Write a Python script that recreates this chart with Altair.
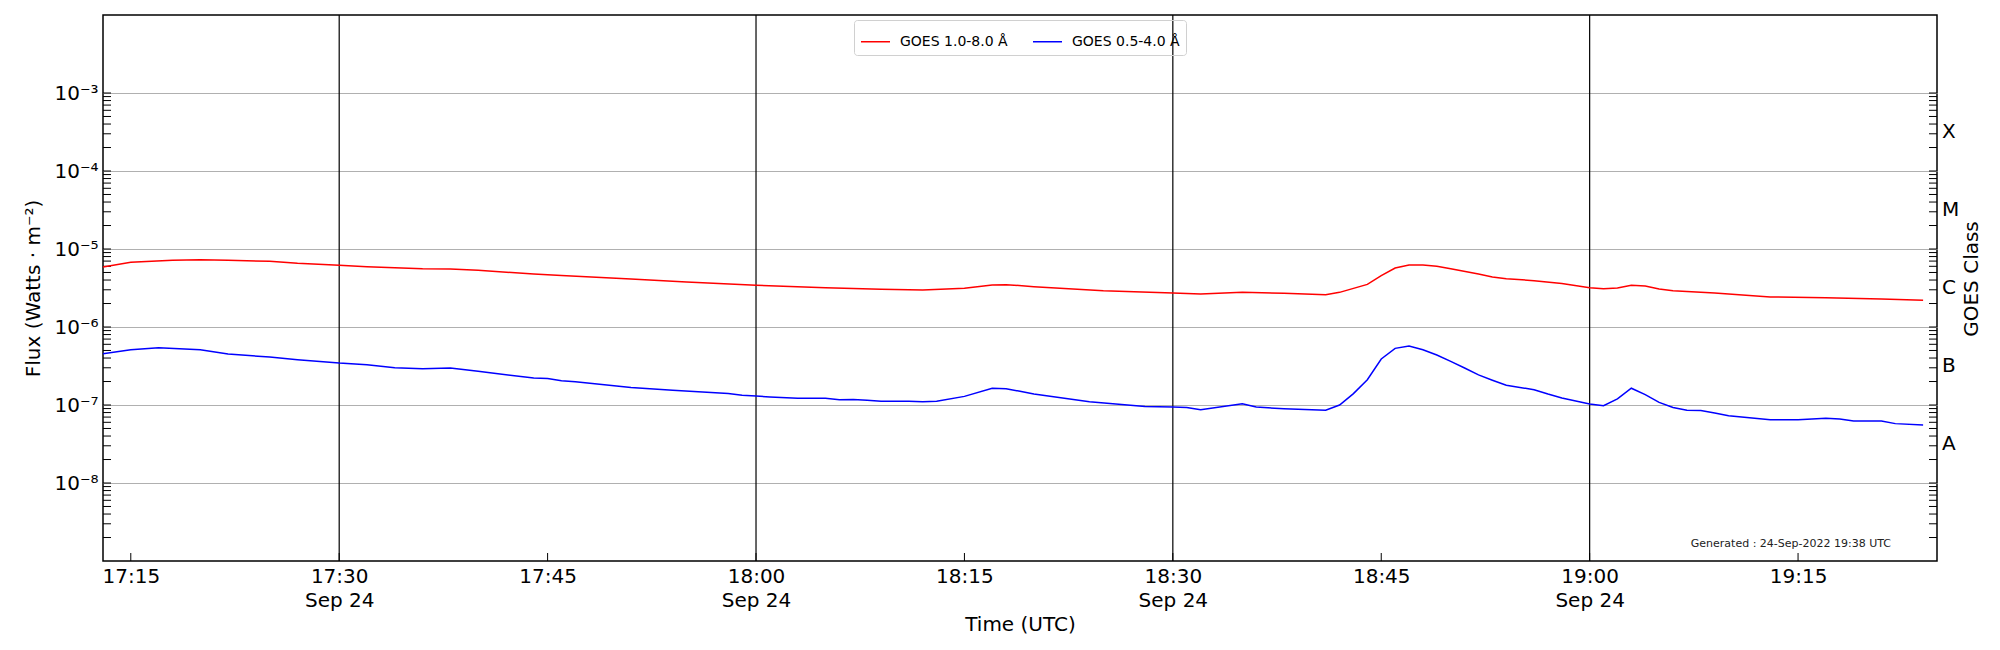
import altair as alt
import pandas as pd

DAY = "2022-09-24"

RED_TIMES = ["17:13", "17:15", "17:18", "17:20", "17:22", "17:25", "17:27", "17:30", "17:32", "17:36",
             "17:38", "17:40", "17:44", "17:46", "17:51", "17:55", "18:00", "18:05", "18:09", "18:12",
             "18:15", "18:17", "18:18", "18:20", "18:25", "18:30", "18:32", "18:35", "18:38", "18:41",
             "18:42", "18:44", "18:45", "18:46", "18:47", "18:48", "18:49", "18:50", "18:52", "18:53",
             "18:54", "18:56", "18:58", "19:00", "19:01", "19:02", "19:03", "19:04", "19:05", "19:06",
             "19:09", "19:13", "19:17", "19:21", "19:24"]
RED_FLUX = [5.88e-6, 6.74e-6, 7.16e-6, 7.30e-6, 7.16e-6, 6.95e-6, 6.55e-6, 6.18e-6, 5.94e-6, 5.60e-6,
            5.55e-6, 5.33e-6, 4.78e-6, 4.59e-6, 4.12e-6, 3.77e-6, 3.42e-6, 3.19e-6, 3.04e-6, 2.98e-6,
            3.13e-6, 3.45e-6, 3.49e-6, 3.29e-6, 2.92e-6, 2.73e-6, 2.65e-6, 2.78e-6, 2.70e-6, 2.60e-6,
            2.78e-6, 3.52e-6, 4.55e-6, 5.70e-6, 6.24e-6, 6.24e-6, 6.00e-6, 5.60e-6, 4.78e-6, 4.38e-6,
            4.17e-6, 3.93e-6, 3.60e-6, 3.19e-6, 3.10e-6, 3.16e-6, 3.42e-6, 3.36e-6, 3.07e-6, 2.92e-6,
            2.73e-6, 2.43e-6, 2.38e-6, 2.29e-6, 2.20e-6]

BLUE_TIMES = ["17:13", "17:15", "17:17", "17:20", "17:22", "17:25", "17:27", "17:30", "17:32", "17:34",
              "17:36", "17:38", "17:40", "17:41", "17:44", "17:45", "17:46", "17:47", "17:51", "17:54",
              "17:58", "17:59", "18:00", "18:01", "18:03", "18:05", "18:06", "18:07", "18:08", "18:09",
              "18:11", "18:12", "18:13", "18:15", "18:17", "18:18", "18:19", "18:20", "18:24", "18:28",
              "18:30", "18:31", "18:32", "18:35", "18:36", "18:38", "18:41", "18:42", "18:43", "18:44",
              "18:45", "18:46", "18:47", "18:48", "18:49", "18:50", "18:51", "18:52", "18:53", "18:54",
              "18:56", "18:57", "18:58", "19:00", "19:01", "19:02", "19:03", "19:04", "19:05", "19:06",
              "19:07", "19:08", "19:09", "19:10", "19:13", "19:15", "19:17", "19:18", "19:19", "19:21",
              "19:22", "19:24"]
BLUE_FLUX = [4.55e-7, 5.12e-7, 5.43e-7, 5.12e-7, 4.51e-7, 4.12e-7, 3.81e-7, 3.45e-7, 3.29e-7, 3.01e-7,
             2.92e-7, 2.98e-7, 2.70e-7, 2.57e-7, 2.22e-7, 2.18e-7, 2.05e-7, 1.99e-7, 1.68e-7, 1.54e-7,
             1.40e-7, 1.33e-7, 1.30e-7, 1.27e-7, 1.22e-7, 1.22e-7, 1.17e-7, 1.18e-7, 1.15e-7, 1.12e-7,
             1.12e-7, 1.10e-7, 1.12e-7, 1.29e-7, 1.64e-7, 1.62e-7, 1.50e-7, 1.38e-7, 1.10e-7, 9.6e-8,
             9.4e-8, 9.3e-8, 8.7e-8, 1.04e-7, 9.4e-8, 8.97e-8, 8.55e-8, 1.0e-7, 1.40e-7, 2.11e-7,
             3.89e-7, 5.32e-7, 5.70e-7, 5.12e-7, 4.37e-7, 3.63e-7, 2.98e-7, 2.43e-7, 2.08e-7, 1.79e-7,
             1.57e-7, 1.38e-7, 1.23e-7, 1.03e-7, 9.8e-8, 1.20e-7, 1.64e-7, 1.36e-7, 1.08e-7, 9.3e-8,
             8.55e-8, 8.5e-8, 7.9e-8, 7.3e-8, 6.48e-8, 6.45e-8, 6.75e-8, 6.6e-8, 6.24e-8, 6.24e-8,
             5.77e-8, 5.55e-8]

SERIES = ["GOES 1.0-8.0 Å", "GOES 0.5-4.0 Å"]
COLORS = ["#ff0000", "#0000ff"]

X_START, X_END = (17, 13), (19, 25)
X_TICKS = [(17, 15), (17, 30), (17, 45), (18, 0), (18, 15), (18, 30), (18, 45), (19, 0), (19, 15)]
VLINES = ["17:30", "18:00", "18:30", "19:00"]

DECADES = [1e-9, 1e-8, 1e-7, 1e-6, 1e-5, 1e-4, 1e-3]
LABELED_DECADES = [1e-8, 1e-7, 1e-6, 1e-5, 1e-4, 1e-3]
MINOR_MULTS = [2, 3, 4, 5, 6, 7, 8, 9]
CLASS_LABELS = ["A", "B", "C", "M", "X"]
CLASS_POS = [10 ** -7.5, 10 ** -6.5, 10 ** -5.5, 10 ** -4.5, 10 ** -3.5]
GENERATED = "Generated : 24-Sep-2022 19:38 UTC"

FONT = "DejaVu Sans"
W, H = 1834, 546


def iso(t):
    return f"{DAY}T{t}:00Z"


def dt(h, m):
    return alt.DateTime(year=2022, month=9, date=24, hours=h, minutes=m, utc=True)


rows = [{"t": iso(t), "flux": v, "series": SERIES[0]} for t, v in zip(RED_TIMES, RED_FLUX)]
rows += [{"t": iso(t), "flux": v, "series": SERIES[1]} for t, v in zip(BLUE_TIMES, BLUE_FLUX)]
df = pd.DataFrame(rows)

tick_vals = [d * m for d in DECADES[:-1] for m in MINOR_MULTS] + DECADES[1:]
ticks_df = pd.DataFrame({"v": tick_vals})
xticks_df = pd.DataFrame({"t": [iso(f"{h:02d}:{m:02d}") for h, m in X_TICKS]})
vlines_df = pd.DataFrame({"t": [iso(t) for t in VLINES]})
class_df = pd.DataFrame({"label": CLASS_LABELS, "v": CLASS_POS})

xs = alt.Scale(type="utc", domain=[dt(*X_START), dt(*X_END)])
ys = alt.Scale(type="log", domain=[1e-9, 1e-2], nice=False)

x_axis = alt.Axis(
    values=[dt(h, m) for h, m in X_TICKS],
    labelExpr="(utcminutes(datum.value) % 30 == 0) ? [utcFormat(datum.value, '%H:%M'), utcFormat(datum.value, '%b %d')] : utcFormat(datum.value, '%H:%M')",
    ticks=False, domain=False, grid=False,
    labelFontSize=20, labelFont=FONT, labelColor="black", labelPadding=5,
    labelLineHeight=24, labelFlush=False, labelOverlap=False,
    title="Time (UTC)", titleFontSize=20, titleFont=FONT, titleFontWeight="normal",
    titleColor="black", titlePadding=4,
)
y_axis = alt.Axis(
    values=LABELED_DECADES,
    labelExpr="'10⁻' + ['⁰','¹','²','³','⁴','⁵','⁶','⁷','⁸','⁹'][round(-log(datum.value)/LN10)]",
    ticks=False, domain=False, grid=True, gridColor="#b0b0b0", gridWidth=1,
    labelFontSize=20, labelFont=FONT, labelColor="black", labelPadding=5, labelOverlap=False,
    labelBaseline="middle",
    title="Flux (Watts · m⁻²)", titleFontSize=20, titleFont=FONT, titleFontWeight="normal",
    titleColor="black", titlePadding=10,
)

vlines = alt.Chart(vlines_df).mark_rule(color="black", strokeWidth=1.2).encode(
    x=alt.X("t:T", scale=xs, axis=None)
)

lines = alt.Chart(df).mark_line(strokeWidth=1.5).encode(
    x=alt.X("t:T", scale=xs, axis=x_axis),
    y=alt.Y("flux:Q", scale=ys, axis=y_axis),
    color=alt.Color(
        "series:N",
        scale=alt.Scale(domain=SERIES, range=COLORS),
        sort=SERIES,
        legend=alt.Legend(
            orient="none", legendX=751, legendY=5, direction="horizontal", title=None,
            symbolType="stroke", symbolSize=841, symbolStrokeWidth=1.5,
            labelFontSize=14, labelFont=FONT, labelColor="black", labelOffset=9,
            columnPadding=22, padding=6, strokeColor="#d0d0d0", cornerRadius=3,
        ),
    ),
    order=alt.Order("t:T"),
)

ytl = alt.Chart(ticks_df).mark_rule(color="black", strokeWidth=1).encode(
    y=alt.Y("v:Q", scale=ys, axis=None), x=alt.value(0), x2=alt.value(8)
)
ytr = alt.Chart(ticks_df).mark_rule(color="black", strokeWidth=1).encode(
    y=alt.Y("v:Q", scale=ys, axis=None), x=alt.value(W - 8), x2=alt.value(W)
)
xt = alt.Chart(xticks_df).mark_rule(color="black", strokeWidth=1).encode(
    x=alt.X("t:T", scale=xs, axis=None), y=alt.value(H - 8), y2=alt.value(H)
)

cls = alt.Chart(class_df).mark_text(
    align="left", baseline="middle", fontSize=20, font=FONT, color="black"
).encode(
    y=alt.Y("v:Q", scale=ys, axis=None), x=alt.value(W + 5), text="label:N"
)

cls_title = alt.Chart(pd.DataFrame({"txt": ["GOES Class"]})).mark_text(
    angle=270, align="center", baseline="middle", fontSize=20, font=FONT, color="black"
).encode(x=alt.value(W + 35), y=alt.value(264), text="txt:N")

gen = alt.Chart(pd.DataFrame({"txt": [GENERATED]})).mark_text(
    align="right", baseline="middle", fontSize=11, font=FONT, color="#222222"
).encode(x=alt.value(1788), y=alt.value(529), text="txt:N")

chart = alt.layer(vlines, ytl, ytr, xt, lines, cls, cls_title, gen).resolve_axis(
    x="independent", y="independent"
).properties(
    width=W, height=H,
    background="white",
    padding={"left": 95, "top": 7, "right": 55, "bottom": 81},
    autosize=alt.AutoSizeParams(type="none"),
).configure_view(stroke="black", strokeWidth=1.5)

chart.save("out.html", embed_options={"renderer": "svg", "actions": False})
